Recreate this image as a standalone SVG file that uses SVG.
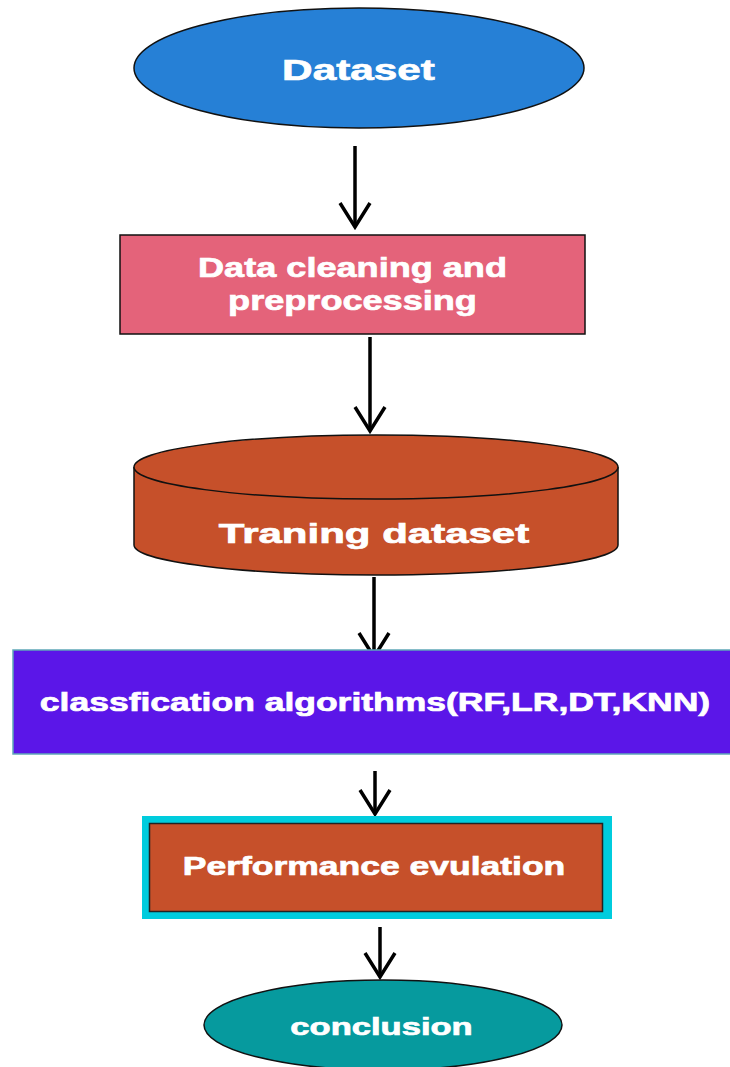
<svg xmlns="http://www.w3.org/2000/svg" width="730" height="1067" viewBox="0 0 730 1067">
<style>
.lbl{font-family:"Liberation Sans",Arial,sans-serif;font-weight:bold;fill:#ffffff;stroke:#ffffff;stroke-width:0.7;text-anchor:middle}
.edge{stroke:#000;stroke-width:3.5;fill:none}
</style>
<defs>
<marker id="chev" markerUnits="userSpaceOnUse" markerWidth="40" markerHeight="40" viewBox="-30 -20 40 40" refX="0" refY="0" orient="auto">
<path d="M-24,-15 L0,0 L-24,15" fill="none" stroke="#000" stroke-width="3.5" stroke-linejoin="miter"/>
</marker>
</defs>
<rect width="730" height="1067" fill="#ffffff"/>
<g id="connectors">
<line class="edge" x1="355" y1="146" x2="355" y2="227" marker-end="url(#chev)"/>
<line class="edge" x1="370" y1="337" x2="370" y2="431" marker-end="url(#chev)"/>
<line class="edge" x1="374" y1="577" x2="374" y2="657" marker-end="url(#chev)"/>
<line class="edge" x1="375" y1="771" x2="375" y2="814" marker-end="url(#chev)"/>
<line class="edge" x1="380" y1="927" x2="380" y2="977" marker-end="url(#chev)"/>
</g>
<g id="dataset">
<ellipse cx="359" cy="68" rx="225" ry="60" fill="#2680D6" stroke="#111" stroke-width="1.5"/>
<text class="lbl" transform="translate(358.5,80) scale(1.41,1)" font-size="30">Dataset</text>
</g>
<g id="cleaning">
<rect x="120" y="235" width="465" height="99" fill="#E4637A" stroke="#111" stroke-width="1.5"/>
<text class="lbl" transform="translate(352.5,277) scale(1.29,1)" font-size="28">Data cleaning and</text>
<text class="lbl" transform="translate(352.5,310) scale(1.29,1)" font-size="28">preprocessing</text>
</g>
<g id="training">
<path d="M134,467 L134,545 A242,30 0 0 0 618,545 L618,467" fill="#C6502A" stroke="#111" stroke-width="1.5"/>
<ellipse cx="376" cy="467" rx="242" ry="32" fill="#C6502A" stroke="#111" stroke-width="1.5"/>
<text class="lbl" transform="translate(374,543) scale(1.5,1)" font-size="28">Traning dataset</text>
</g>
<g id="classification">
<rect x="13" y="650" width="720" height="104" fill="#5B16E8" stroke="#5fa8b8" stroke-width="1.5"/>
<text class="lbl" transform="translate(375,711) scale(1.42,1)" font-size="25">classfication algorithms(RF,LR,DT,KNN)</text>
</g>
<g id="performance">
<rect x="142" y="816" width="470" height="103" fill="#00CCDD"/>
<rect x="149.5" y="823.5" width="453" height="88" fill="#C6502A" stroke="#222" stroke-width="1.5"/>
<text class="lbl" transform="translate(374,875) scale(1.42,1)" font-size="25">Performance evulation</text>
</g>
<g id="conclusion">
<ellipse cx="383" cy="1025" rx="179" ry="45" fill="#069A9E" stroke="#111" stroke-width="1.5"/>
<text class="lbl" transform="translate(381.5,1035) scale(1.44,1)" font-size="24">conclusion</text>
</g>
</svg>
